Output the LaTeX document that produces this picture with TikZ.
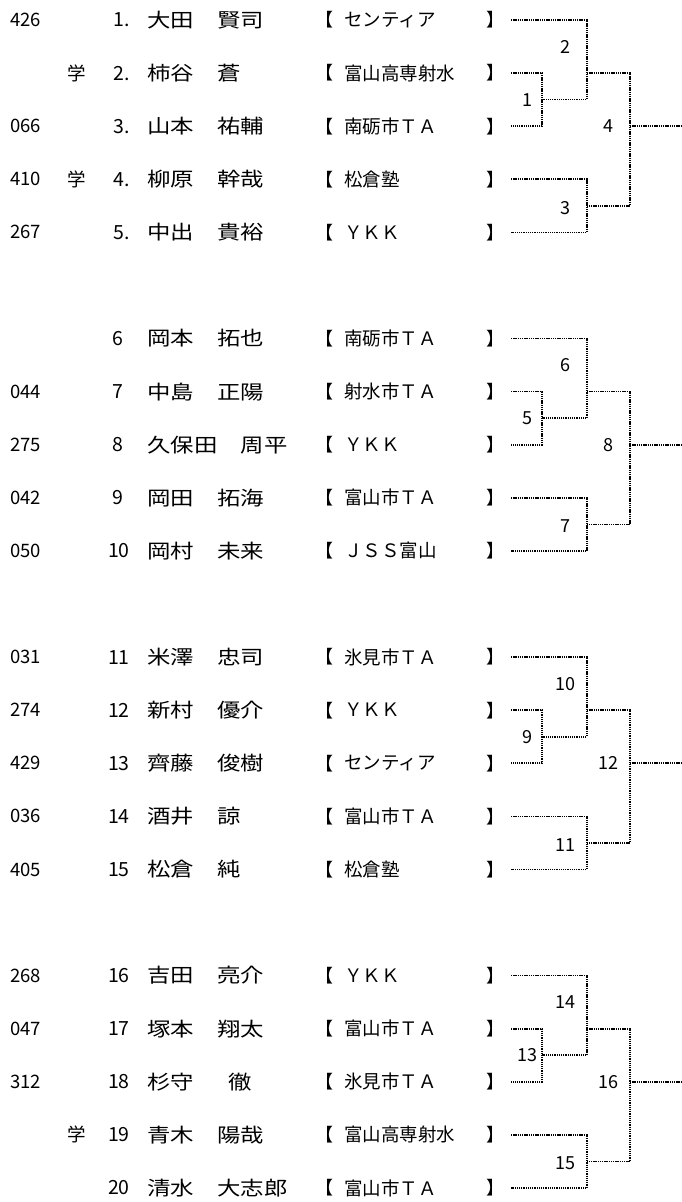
\documentclass[tikz,border=0pt]{standalone}
\usepackage{fontspec}
\setmainfont{Noto Sans CJK JP}
\newfontfamily\jpfont{Noto Sans CJK JP}
\newfontfamily\namefont[FakeStretch=1.2]{Noto Sans CJK JP}
\usetikzlibrary{positioning, calc}

\begin{document}
\begin{tikzpicture}[
    x=1pt, y=-1pt,
    seedno/.style={anchor=west, inner sep=0pt, font=\jpfont\fontsize{18.5}{20}\selectfont},
    gaku/.style={inner sep=0pt, font=\jpfont\fontsize{18.5}{20}\selectfont},
    pno/.style={anchor=east, inner sep=0pt, font=\jpfont\fontsize{19.5}{22}\selectfont},
    player/.style={anchor=west, inner sep=0pt, font=\namefont\fontsize{19.5}{22}\selectfont},
    lbr/.style={anchor=east, inner sep=0pt, font=\jpfont\fontsize{18}{20}\selectfont},
    rbr/.style={anchor=west, inner sep=0pt, font=\jpfont\fontsize{18}{20}\selectfont},
    club/.style={anchor=west, inner sep=0pt, font=\jpfont\fontsize{18.5}{20}\selectfont},
    mno/.style={inner sep=0pt, font=\jpfont\fontsize{18}{20}\selectfont},
    bline/.style={line width=1.6pt, dash pattern=on 1.3pt off 0.9pt}
]
\useasboundingbox (0,0) rectangle (681,1202);

% columns of the draw
\coordinate (x1) at (542,0);
\coordinate (x2) at (587,0);
\coordinate (x3) at (630,0);
\coordinate (x4) at (681,0);

% players
\foreach \i/\sd/\gk/\no/\pl/\cl in {
    1/426//1./大田　賢司/センティア,
    2//学/2./柿谷　蒼/富山高専射水,
    3/066//3./山本　祐輔/南砺市ＴＡ,
    4/410/学/4./柳原　幹哉/松倉塾,
    5/267//5./中出　貴裕/ＹＫＫ,
    6///6\kern6pt/岡本　拓也/南砺市ＴＡ,
    7/044//7\kern6pt/中島　正陽/射水市ＴＡ,
    8/275//8\kern6pt/久保田　周平/ＹＫＫ,
    9/042//9\kern6pt/岡田　拓海/富山市ＴＡ,
    10/050//10/岡村　未来/ＪＳＳ富山,
    11/031//11/米澤　忠司/氷見市ＴＡ,
    12/274//12/新村　優介/ＹＫＫ,
    13/429//13/齊藤　俊樹/センティア,
    14/036//14/酒井　諒/富山市ＴＡ,
    15/405//15/松倉　純/松倉塾,
    16/268//16/吉田　亮介/ＹＫＫ,
    17/047//17/塚本　翔太/富山市ＴＡ,
    18/312//18/杉守　\kern11.6pt 徹/氷見市ＴＡ,
    19//学/19/青木　陽哉/富山高専射水,
    20///20/清水　大志郎/富山市ＴＡ} {
  \pgfmathsetmacro\yy{20+53.09*(\i-1+int((\i-1)/5))}
  \node[seedno] (s\i) at (10,\yy) {\sd};
  \node[gaku] (g\i) at (77,\yy) {\gk};
  \node[pno] (n\i) at (130,\yy) {\no};
  \node[player] (p\i) at (147,\yy) {\pl};
  \node[lbr] (lb\i) at (334,\yy) {【};
  \node[club] (c\i) at (344,\yy) {\cl};
  \node[rbr] (rb\i) at (486,\yy) {】};
  \coordinate (e\i) at (511,\yy);
}

% brackets
\foreach \g in {0,...,3} {
  \pgfmathtruncatemacro\a{5*\g+1}
  \pgfmathtruncatemacro\b{5*\g+2}
  \pgfmathtruncatemacro\c{5*\g+3}
  \pgfmathtruncatemacro\d{5*\g+4}
  \pgfmathtruncatemacro\e{5*\g+5}
  \pgfmathtruncatemacro\ma{4*\g+1}
  \pgfmathtruncatemacro\mb{4*\g+2}
  \pgfmathtruncatemacro\mc{4*\g+3}
  \pgfmathtruncatemacro\md{4*\g+4}
  \coordinate (ha\g) at ($(e\b)!.5!(e\c)$);
  \coordinate (hb\g) at ($(e\a)!.5!(e\b)$);
  \coordinate (hc\g) at ($(e\d)!.5!(e\e)$);
  \draw[bline] (e\b) -| (ha\g -| x1) |- (e\c);
  \draw[bline] (e\a) -| (ha\g -| x2) -- (ha\g -| x1);
  \draw[bline] (e\d) -| (hc\g -| x2) |- (e\e);
  \draw[bline] (e\b -| x2) -| (hc\g -| x3) -- (hc\g -| x2);
  \draw[bline] (e\c -| x3) -- (e\c -| x4);
  \node[mno] (l\ma) at ($(ha\g -| x1)+(-15,0)$) {\ma};
  \node[mno] (l\mb) at ($(hb\g -| x2)+(-22,0)$) {\mb};
  \node[mno] (l\mc) at ($(hc\g -| x2)+(-22,2)$) {\mc};
  \node[mno] (l\md) at ($(e\c -| x3)+(-22,0)$) {\md};
}
\end{tikzpicture}
\end{document}
